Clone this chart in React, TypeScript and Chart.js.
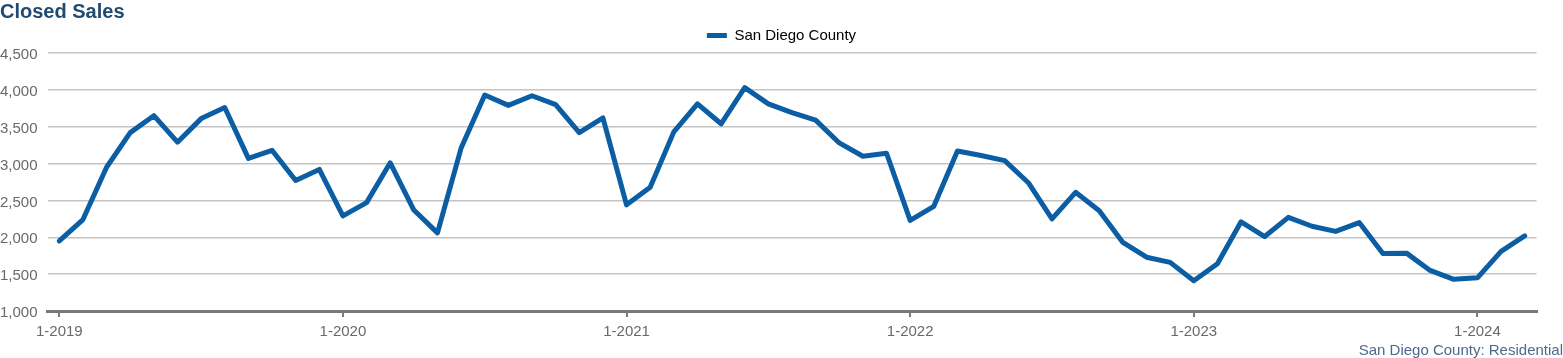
import React, { useEffect, useRef } from "react";
import { Chart, registerables } from "chart.js";

Chart.register(...registerables);

const titleText = "Closed Sales";
const seriesName = "San Diego County";
const footnote = "San Diego County: Residential";

const years = [2019, 2020, 2021, 2022, 2023, 2024];
const monthsInLastYear = 3;

const categories: string[] = [];
years.forEach((y) => {
  const n = y === 2024 ? monthsInLastYear : 12;
  for (let m = 1; m <= n; m++) categories.push(`${m}-${y}`);
});

const closedSales = [
  1950, 2240, 2950, 3420, 3650, 3290, 3610, 3760, 3070, 3180, 2770, 2920,
  2290, 2470, 3010, 2370, 2060, 3210, 3930, 3790, 3920, 3800, 3420, 3620,
  2440, 2680, 3430, 3810, 3540, 4030, 3810, 3690, 3590, 3280, 3100, 3140,
  2230, 2420, 3170, 3110, 3040, 2740, 2250, 2610, 2360, 1930, 1730, 1660,
  1410, 1640, 2210, 2010, 2270, 2150, 2080, 2200, 1780, 1785, 1550, 1430,
  1450, 1810, 2020,
];

const yMin = 1000;
const yMax = 4500;
const yStep = 500;

const LINE = "#0b5ea3";
const FONT = "'Liberation Sans', Arial, sans-serif";

export default function App() {
  const ref = useRef<HTMLCanvasElement | null>(null);

  useEffect(() => {
    if (!ref.current) return;
    const chart = new Chart(ref.current, {
      type: "line",
      data: {
        labels: categories,
        datasets: [
          {
            label: seriesName,
            data: closedSales,
            borderColor: LINE,
            backgroundColor: LINE,
            borderWidth: 5,
            pointRadius: 0,
            tension: 0,
            borderJoinStyle: "round",
            borderCapStyle: "round",
            yAxisID: "y",
          },
        ],
      },
      options: {
        responsive: false,
        animation: false,
        devicePixelRatio: 1,
        layout: { padding: { left: 0, right: 0, top: 0, bottom: 0 } },
        plugins: {
          title: {
            display: true,
            text: titleText,
            align: "start",
            color: "#214a73",
            font: { family: FONT, size: 20, weight: "bold", lineHeight: 1.2 },
            padding: { top: 0, bottom: 0 },
          },
          legend: {
            display: true,
            position: "top",
            align: "center",
            labels: {
              boxWidth: 20,
              boxHeight: 5,
              color: "#2a3644",
              font: { family: FONT, size: 15 },
              padding: 4,
              generateLabels: () => [
                {
                  text: seriesName,
                  fillStyle: LINE,
                  strokeStyle: LINE,
                  lineWidth: 0,
                  datasetIndex: 0,
                  hidden: false,
                },
              ],
            },
          },
          subtitle: {
            display: true,
            position: "bottom",
            align: "end",
            text: footnote,
            color: "#50698a",
            font: { family: FONT, size: 15, lineHeight: 1.0 },
            padding: { top: 0, bottom: 0 },
          },
          tooltip: { enabled: false },
        },
        scales: {
          x: {
            type: "category",
            offset: true,
            grid: {
              display: true,
              drawOnChartArea: false,
              drawTicks: true,
              tickLength: 6,
              lineWidth: 2,
              color: (ctx: any) =>
                ctx.index % 12 === 0 ? "#7a7a7a" : "rgba(0,0,0,0)",
            },
            border: { display: true, color: "#7a7a7a", width: 3 },
            ticks: {
              autoSkip: false,
              maxRotation: 0,
              minRotation: 0,
              padding: 6,
              color: "#696969",
              font: { family: FONT, size: 15, lineHeight: 1.2 },
              callback: (_v: any, i: number) =>
                i % 12 === 0 ? categories[i] : "",
            },
            afterFit: (scale: any) => {
              scale.height = 32;
            },
          },
          y: {
            min: yMin,
            max: yMax,
            grid: {
              display: true,
              drawTicks: false,
              color: "#c4c4c4",
              lineWidth: 1.5,
            },
            border: { display: false },
            ticks: {
              stepSize: yStep,
              padding: 10,
              labelOffset: 2,
              color: "#696969",
              font: { family: FONT, size: 15 },
              callback: (v: any) => Number(v).toLocaleString("en-US"),
            },
            afterFit: (scale: any) => {
              scale.width = 47.5;
            },
          },
          yRight: {
            type: "linear",
            position: "right",
            display: true,
            grid: { display: false, drawTicks: false },
            border: { display: false },
            ticks: { display: false },
            afterFit: (scale: any) => {
              scale.width = 26.5;
            },
          },
        },
      },
    });
    return () => chart.destroy();
  }, []);

  return (
    <div style={{ position: "fixed", left: 0, top: 0, width: 1563, height: 358, background: "#fff" }}>
      <canvas ref={ref} width={1563} height={358} style={{ display: "block" }} />
    </div>
  );
}
